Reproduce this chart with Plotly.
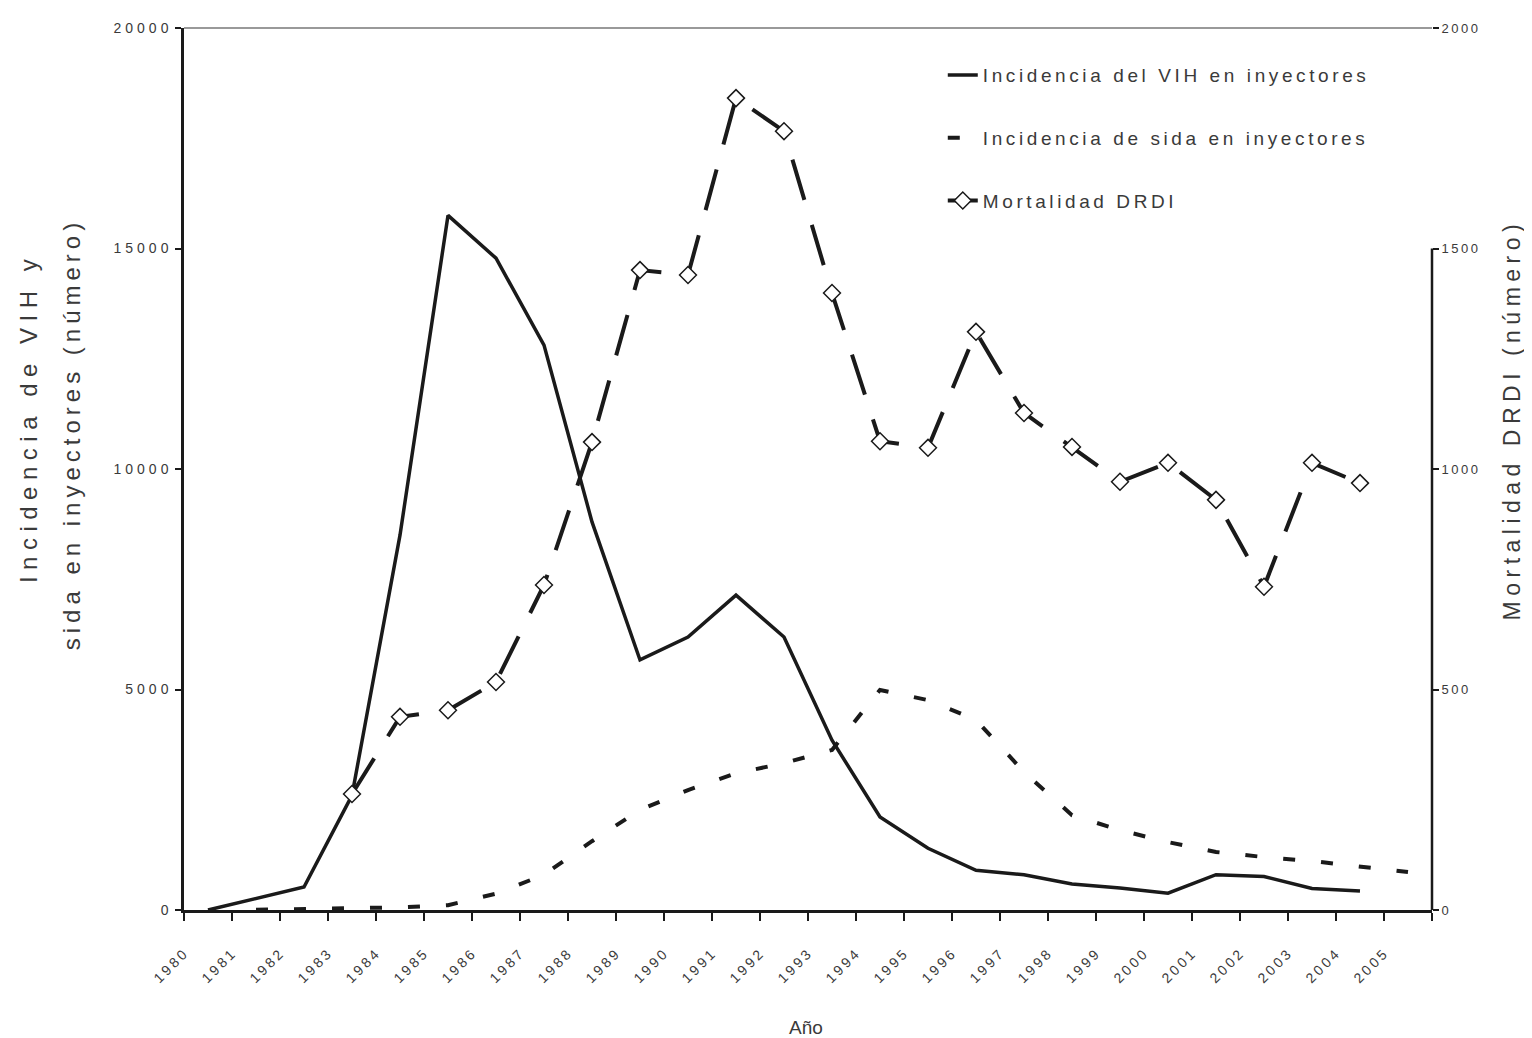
import plotly.graph_objects as go

# ---------------- data ----------------
years = list(range(1980, 2006))
vih_incidence = [0, 250, 520, 2600, 8500, 15750, 14780, 12810, 8800, 5670, 6190, 7140,
                 6190, 3850, 2110, 1400, 900, 800, 590, 500, 380, 800, 760, 490, 430, None]
sida_incidence = [None, 5, 20, 40, 60, 110, 370, 800, 1560, 2270, 2720, 3100, 3330,
                  3630, 4990, 4760, 4310, 3130, 2150, 1810, 1540, 1315, 1200, 1110, 975, 860]
mortalidad = [None, None, None, 263, 438, 453, 517, 737, 1061, 1451, 1440, 1841, 1766,
              1399, 1063, 1048, 1311, 1127, 1050, 971, 1014, 930, 733, 1014, 968, None]
left_ticks = [0, 5000, 10000, 15000, 20000]
right_ticks = [0, 500, 1000, 1500, 2000]
year_labels = [str(y) for y in years]

names = ["Incidencia del VIH en inyectores",
         "Incidencia de sida en inyectores",
         "Mortalidad DRDI"]

FONT = "Liberation Sans, Arial, sans-serif"
INK = "#1a1a1a"
TXT = "#3a3a3a"


def spaced(s, px=2):
    return f'<span style="letter-spacing:{px}px">{s}</span>'


fig = go.Figure()
fig.add_trace(go.Scatter(
    x=years, y=vih_incidence, name=spaced(names[0], 3.6), mode="lines",
    line=dict(color=INK, width=3.5), legendgroup="a", yaxis="y"))
fig.add_trace(go.Scatter(
    x=years, y=sida_incidence, name=spaced(names[1], 3.6), mode="lines",
    line=dict(color=INK, width=4, dash="12px,26px"), legendgroup="b", yaxis="y"))
fig.add_trace(go.Scatter(
    x=years, y=mortalidad, name=spaced(names[2], 3.6), mode="lines+markers",
    line=dict(color=INK, width=4, dash="42px,26px"),
    marker=dict(symbol="diamond", size=13, color="white",
                line=dict(color=INK, width=1.5)),
    legendgroup="c", yaxis="y2"))

fig.update_layout(
    width=1524, height=1030,
    margin=dict(l=176, r=100, t=20, b=128),
    paper_bgcolor="white", plot_bgcolor="white",
    font=dict(family=FONT, color=TXT),
    showlegend=True,
    legend=dict(x=0.608, y=0.968, xanchor="left", yanchor="top",
                font=dict(size=19, color=TXT, family=FONT),
                bgcolor="rgba(0,0,0,0)", tracegroupgap=35),
    xaxis=dict(
        range=[1979.5, 2005.5], showgrid=False, zeroline=False,
        tickmode="array", tickvals=[y - 0.48 for y in years],
        ticktext=[spaced(t, 3) for t in year_labels],
        tickangle=-45, ticks="", tickfont=dict(size=14, color=TXT),
        ticklabelstandoff=26,
        showline=True, linecolor=INK, linewidth=2.5,
        minor=dict(tick0=1979.5, dtick=1, ticks="outside", ticklen=8,
                   tickwidth=1.5, tickcolor=INK, showgrid=False),
    ),
    yaxis=dict(
        range=[0, 20000], tickmode="array", tickvals=left_ticks,
        ticktext=[spaced(str(v), 4) for v in left_ticks],
        showgrid=False, zeroline=False, ticks="outside", ticklen=6,
        tickwidth=1.5, tickcolor=INK, tickfont=dict(size=14, color=TXT),
        showline=True, linecolor=INK, linewidth=2.5,
    ),
    yaxis2=dict(
        range=[0, 2000], tickmode="array", tickvals=right_ticks,
        ticktext=[spaced(str(v), 2.5) for v in right_ticks], overlaying="y",
        side="right", showgrid=False, zeroline=False, ticks="outside", ticklen=6,
        tickwidth=1.5, tickcolor=INK, tickfont=dict(size=13, color=TXT),
        showline=False,
    ),
    shapes=[
        dict(type="line", xref="paper", yref="paper", x0=0, x1=1, y0=1, y1=1,
             line=dict(color="#777777", width=1.5)),
        dict(type="line", xref="paper", yref="y2", x0=1, x1=1, y0=0, y1=1500,
             line=dict(color=INK, width=2.5)),
    ],
    annotations=[
        dict(text=spaced("Incidencia de VIH y", 6.5), xref="paper", yref="paper",
             x=-0.124, y=0.558, textangle=-90, showarrow=False,
             xanchor="center", yanchor="middle", font=dict(size=24, color=TXT)),
        dict(text=spaced("sida en inyectores (número)", 5), xref="paper", yref="paper",
             x=-0.090, y=0.539, textangle=-90, showarrow=False,
             xanchor="center", yanchor="middle", font=dict(size=24, color=TXT)),
        dict(text=spaced("Mortalidad DRDI (número)", 5.5), xref="paper", yref="paper",
             x=1.064, y=0.556, textangle=-90, showarrow=False,
             xanchor="center", yanchor="middle", font=dict(size=23, color=TXT)),
        dict(text="Año", xref="paper", yref="paper", x=0.498, y=-0.133,
             showarrow=False, xanchor="center", yanchor="middle",
             font=dict(size=19, color=TXT)),
    ],
)

fig.write_html("out.html")
